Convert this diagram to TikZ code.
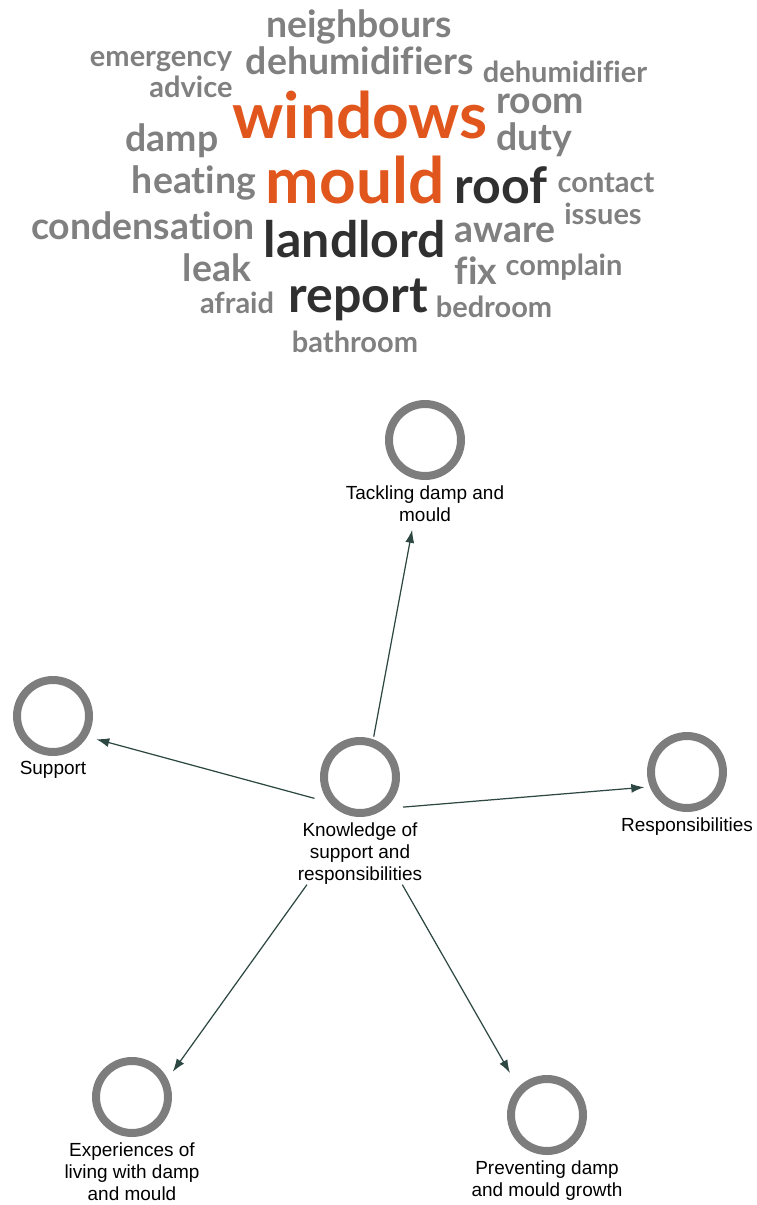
\documentclass[tikz,border=0pt]{standalone}
\usepackage{fontspec}
\newfontfamily\cloudfont{Lato}[Ligatures=NoCommon]
\newfontfamily\labelfont{Liberation Sans}
\usetikzlibrary{positioning,fit,arrows.meta}
\tikzset{>={Latex[length=2.6mm,width=1.8mm]}}
\definecolor{cloudgray}{RGB}{128,128,128}
\definecolor{clouddark}{RGB}{48,48,48}
\definecolor{cloudorange}{RGB}{224,86,28}
\definecolor{ringgray}{RGB}{125,125,125}
\definecolor{linkgreen}{RGB}{45,72,66}
\tikzset{
  word/.style={inner sep=0pt,anchor=base,text=cloudgray},
  small/.style={word,font=\cloudfont\bfseries\fontsize{16.5}{18}\selectfont},
  medium/.style={word,font=\cloudfont\bfseries\fontsize{21.3}{24}\selectfont},
  large/.style={word,text=clouddark,font=\cloudfont\bfseries\fontsize{28.5}{32}\selectfont},
  huge/.style={word,text=cloudorange,font=\cloudfont\bfseries\fontsize{36.4}{40}\selectfont},
  theme/.style={circle,draw=ringgray,line width=0.16cm,minimum size=1.44cm,inner sep=0pt},
  lbl/.style={align=center,inner sep=0pt,font=\labelfont\fontsize{10.8}{12.5}\selectfont},
  grp/.style={inner sep=0pt},
  link/.style={->,draw=linkgreen,line width=0.7pt}
}

\begin{document}
\begin{tikzpicture}[x=0.02cm,y=-0.02cm]
  \useasboundingbox (0,0) rectangle (757,1205);
  % word cloud
  \node[medium] (neighbours) at (359,37) {neighbours};
  \node[small] (emergency) at (161,66) {emergency};
  \node[medium] (dehumidifiers) at (360,74) {dehumidifiers};
  \node[small] (dehumidifier) at (565,82) {dehumidifier};
  \node[small] (advice) at (191,97) {advice};
  \node[huge] (windows) at (360,138) {windows};
  \node[medium] (room) at (540,113) {room};
  \node[medium] (damp) at (172,151) {damp};
  \node[medium] (duty) at (534,150) {duty};
  \node[medium] (heating) at (194,193) {heating};
  \node[huge] (mould) at (355,203) {mould};
  \node[large] (roof) at (501,203) {roof};
  \node[small] (contact) at (606,192) {contact};
  \node[small] (issues) at (603,224) {issues};
  \node[medium] (condensation) at (143,239) {condensation};
  \node[large] (landlord) at (355,257) {landlord};
  \node[medium] (aware) at (505,242) {aware};
  \node[medium] (leak) at (217,281) {leak};
  \node[medium] (fix) at (476,284) {fix};
  \node[small] (complain) at (564,275) {complain};
  \node[large] (report) at (358,312) {report};
  \node[small] (afraid) at (237,313) {afraid};
  \node[small] (bedroom) at (494,317) {bedroom};
  \node[small] (bathroom) at (355,352) {bathroom};
  % themes
  \node[theme] (k) at (360,777) {};
  \node[theme] (t) at (425,440) {};
  \node[theme] (s) at (53,716) {};
  \node[theme] (r) at (687,772) {};
  \node[theme] (e) at (132,1097) {};
  \node[theme] (p) at (547,1115) {};
  \node[lbl,below=0.1cm of k] (kl) {Knowledge of\\support and\\responsibilities};
  \node[lbl,below=0.1cm of t] (tl) {Tackling damp and\\mould};
  \node[lbl,below=0.1cm of s] (sl) {Support};
  \node[lbl,below=0.1cm of r] (rl) {Responsibilities};
  \node[lbl,below=0.1cm of e] (el) {Experiences of\\living with damp\\and mould};
  \node[lbl,below=0.1cm of p] (pl) {Preventing damp\\and mould growth};
  % theme boxes (circle + label)
  \node[grp,fit=(k)(kl)] (kg) {};
  \node[grp,fit=(t)(tl)] (tg) {};
  \node[grp,fit=(s)(sl)] (sg) {};
  \node[grp,fit=(r)(rl)] (rg) {};
  \node[grp,fit=(e)(el)] (eg) {};
  \node[grp,fit=(p)(pl)] (pg) {};
  % links
  \draw[link,shorten >=0.16cm] (kg) -- (tg);
  \draw[link,shorten <=-0.36cm,shorten >=0.06cm] (kg) -- (sg);
  \draw[link,shorten <=-0.4cm,shorten >=-0.48cm] (kg) -- (rg);
  \draw[link,shorten >=-0.37cm] (kg) -- (eg);
  \draw[link,shorten >=0.04cm] (kg) -- (pg);
\end{tikzpicture}
\end{document}
